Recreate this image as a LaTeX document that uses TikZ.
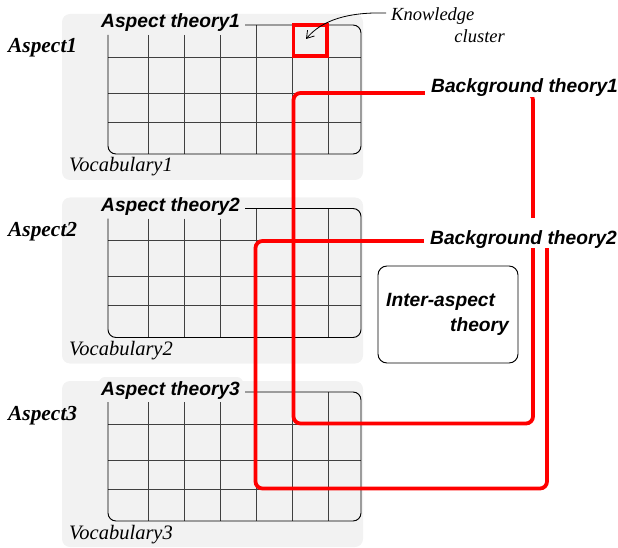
\documentclass[tikz,border=0pt]{standalone}
\usepackage{fontspec}
\setmainfont{Liberation Serif}
\newfontfamily\labelsans{Liberation Sans}
\usetikzlibrary{arrows.meta,calc}
\definecolor{panelgray}{HTML}{F2F2F2}
\definecolor{gridgray}{HTML}{404040}
\definecolor{bgred}{HTML}{FF0000}
\begin{document}
\begin{tikzpicture}[x=1pt,y=-1pt,
  panelbox/.style={fill=panelgray,rounded corners=8pt},
  gridline/.style={draw=gridgray,line width=0.85pt},
  framebox/.style={draw=black,line width=0.95pt,rounded corners=8pt},
  redframe/.style={draw=bgred,line width=3.8pt,rounded corners=7pt},
  sanstext/.style={font=\labelsans\bfseries\itshape\fontsize{19.2}{23}\selectfont,inner sep=0pt},
  aspecttext/.style={font=\bfseries\itshape\fontsize{21.4}{25}\selectfont,inner sep=0pt},
  vocabtext/.style={font=\itshape\fontsize{20.5}{24}\selectfont,inner sep=0pt},
  notetext/.style={font=\itshape\fontsize{18.5}{22}\selectfont,inner sep=0pt},
  bglabel/.style={sanstext,fill=white,anchor=base west,inner xsep=6pt,inner ysep=0.5pt,
    text height=25.5pt,text depth=3.5pt}]
\useasboundingbox (0,0) rectangle (618,548);

% the three aspects: shaded panel, grid of theories, captions
\foreach \i/\dy in {1/0,2/183.5,3/367}{
  \begin{scope}[yshift=-\dy pt]
    \fill[panelbox] (62,14) rectangle (363,180);
    \ifnum\i=3
      \fill[panelgray,rounded corners=6pt] (99,10) rectangle (243,26);
    \fi
    \foreach \x in {148,184,220}
      \draw[gridline] (\x,35) -- (\x,154);
    \foreach \x in {256,292,328}
      \draw[gridline] (\x,25) -- (\x,154);
    \foreach \y in {57,93,122}
      \draw[gridline] (108,\y) -- (361,\y);
    \draw[framebox] (245,25) -- (361,25) -- (361,154) -- (108,154) -- (108,35);
    \node[sanstext,anchor=base west] (theory\i) at (101,28) {Aspect theory\i};
    \node[aspecttext,anchor=base west] (aspect\i) at (8,53) {Aspect\i};
    \node[vocabtext,anchor=base west] (vocab\i) at (69,172) {Vocabulary\i};
  \end{scope}
}

% knowledge cluster
\node[draw=bgred,line width=3.8pt,inner sep=0pt,minimum width=33.5pt,minimum height=31pt] (cluster) at (310.25,40.5) {};
\node[notetext,anchor=base west] (knowledge) at (391,20.5) {Knowledge};
\node[notetext,anchor=base east] (clusterword) at (505,43) {cluster};
\coordinate (clustertip) at (306,39);
\draw[line width=0.8pt,-{Straight Barb[length=7pt,width=9pt]}]
  ($(knowledge.base west)+(-5,-7.5)$) .. controls (348,12) and (322,20) .. (clustertip);

% background theories
\draw[redframe] (293.5,93) rectangle (533,423.5);
\draw[redframe] (255.5,241) rectangle (547,488.5);
\node[bglabel] (bg1) at (425,93) {Background theory1};
\node[bglabel] (bg2) at (424,244) {Background theory2};

% inter-aspect theory
\node[draw=black,line width=0.95pt,rounded corners=9pt,minimum width=140pt,minimum height=97pt,inner sep=0pt] (inter) at (448,314.5) {};
\node[sanstext,anchor=base west] (interA) at (386,306) {Inter-aspect};
\node[sanstext,anchor=base east] (interB) at (509,331) {theory};
\end{tikzpicture}
\end{document}
